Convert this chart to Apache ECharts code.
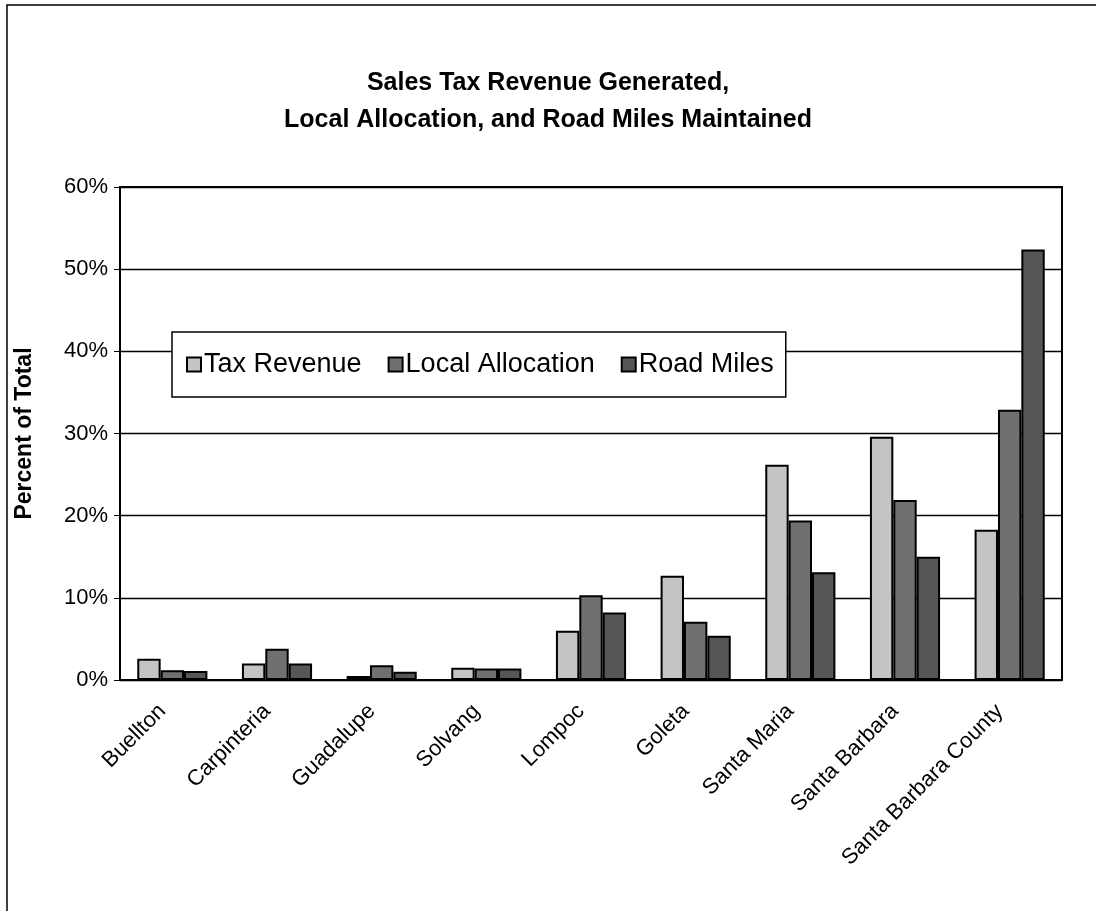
<!DOCTYPE html>
<html><head><meta charset="utf-8">
<script src="https://cdn.jsdelivr.net/npm/echarts@6/dist/echarts.min.js"></script>
<style>html,body{margin:0;padding:0;background:#fff}#c{width:1096px;height:911px}</style>
</head><body><div id="c"></div>
<script>
const categories = ['Buellton','Carpinteria','Guadalupe','Solvang','Lompoc','Goleta','Santa Maria','Santa Barbara','Santa Barbara County'];
const taxRevenue = [2.6, 2.0, 0.5, 1.5, 6.0, 12.7, 26.2, 29.6, 18.3];
const localAllocation = [1.2, 3.8, 1.8, 1.4, 10.3, 7.1, 19.4, 21.9, 32.9];
const roadMiles = [1.1, 2.0, 1.0, 1.4, 8.2, 5.4, 13.1, 15.0, 52.4];
const yTicks = [0, 10, 20, 30, 40, 50, 60];

const chart = echarts.init(document.getElementById('c'));
const font = 'Liberation Sans, Arial, sans-serif';
function s(name, data, color){
  return {name, type:'bar', data, barGap:'0%', barCategoryGap:'33%',
    itemStyle:{color, borderColor:'#000', borderWidth:2}};
}
chart.setOption({
  animation:false,
  graphic:[{type:'rect', shape:{x:7,y:5,width:1200,height:1000}, style:{fill:'none', stroke:'#000', lineWidth:1.5}, silent:true}],
  title:{text:'Sales Tax Revenue Generated,\nLocal Allocation, and Road Miles Maintained', left:'center', top:60,
    textStyle:{fontFamily:font, fontWeight:'bold', fontSize:25, lineHeight:37, color:'#000'}},
  legend:{left:172, top:332, width:660, padding:[19,12,19,14], itemGap:26, itemWidth:14, itemHeight:14,
    borderColor:'#000', borderWidth:1.5, backgroundColor:'#fff', icon:'rect',
    textStyle:{fontFamily:font, fontSize:27, color:'#000', padding:[0,0,0,-2]},
    data:['Tax Revenue','Local Allocation','Road Miles']},
  grid:{left:120, right:34, top:187, bottom:231, show:true, borderColor:'#000', borderWidth:2},
  xAxis:{type:'category', data:categories,
    axisLine:{lineStyle:{color:'#000', width:2}}, axisTick:{show:false},
    axisLabel:{rotate:45, interval:0, fontFamily:font, fontSize:22, color:'#000', margin:18, padding:[0,14,0,0]}},
  yAxis:{type:'value', min:yTicks[0], max:yTicks[yTicks.length-1], interval:10,
    name:'Percent of Total', nameLocation:'middle', nameGap:84,
    nameTextStyle:{fontFamily:font, fontSize:23, fontWeight:'bold', color:'#000'},
    axisLine:{show:true, lineStyle:{color:'#000', width:2}},
    axisTick:{show:true, length:6, lineStyle:{color:'#000'}},
    axisLabel:{formatter:'{value}%', fontFamily:font, fontSize:22, color:'#000', margin:12},
    splitLine:{lineStyle:{color:'#000', width:1.3}}},
  series:[s('Tax Revenue', taxRevenue, '#c4c4c4'), s('Local Allocation', localAllocation, '#707070'), s('Road Miles', roadMiles, '#565656')]
});
</script></body></html>
